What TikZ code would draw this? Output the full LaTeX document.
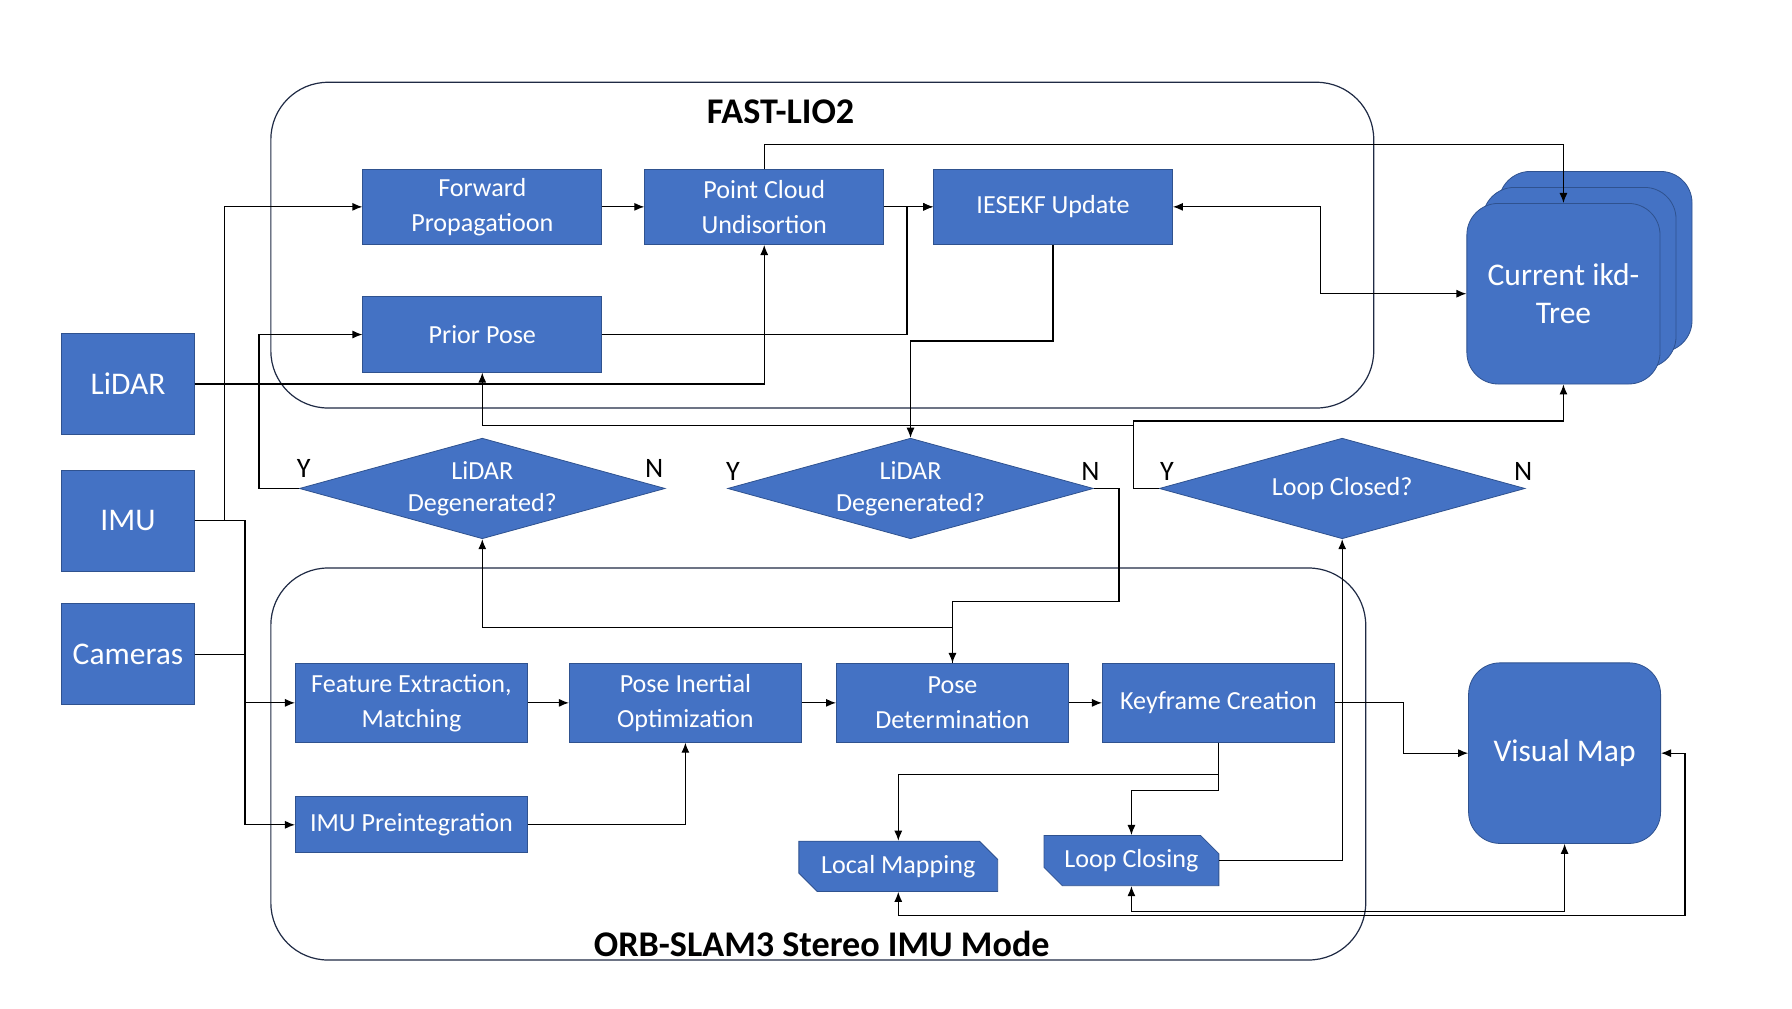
\documentclass[tikz,border=0pt]{standalone}
\usepackage{fontspec}
\setmainfont{Carlito}
\usepackage{tikz}
\usetikzlibrary{shapes.geometric,shapes.misc,arrows.meta,positioning,shadows,calc}
\definecolor{slamblue}{HTML}{4472C4}
\definecolor{slamedge}{HTML}{2F528F}
\definecolor{slamframe}{HTML}{1F2A44}

\begin{document}
\begin{tikzpicture}[
  box/.style={draw=slamedge, fill=slamblue, text=white, align=center, inner sep=0pt, font=\fontsize{13}{17.5}\selectfont},
  proc/.style={box, minimum width=4.18cm, minimum height=1.32cm},
  slamproc/.style={box, minimum width=4.06cm, minimum height=1.38cm},
  sensor/.style={box, minimum width=2.32cm, minimum height=1.76cm, font=\fontsize{15.7}{19}\selectfont},
  decision/.style={box, diamond, aspect=3.6, minimum width=6.4cm, minimum height=1.76cm, font=\fontsize{13}{16}\selectfont},
  mapbox/.style={box, rounded corners=0.55cm, minimum width=3.36cm, minimum height=3.16cm, font=\fontsize{15.7}{19}\selectfont},
  thread/.style={box, chamfered rectangle, chamfered rectangle corners={north east,south west}, chamfered rectangle xsep=0.16cm, chamfered rectangle ysep=0.16cm, minimum height=0.88cm},
  groupframe/.style={draw=slamframe, semithick, rounded corners=1cm},
  grouptitle/.style={font=\bfseries\fontsize{18}{22}\selectfont},
  yn/.style={font=\fontsize{14}{16}\selectfont, inner sep=0pt, anchor=base},
  >={Latex[length=5pt,width=4pt]}
]
\useasboundingbox (0,0) rectangle (31.36,-17.64);

% the two modules
\node[groupframe, minimum width=19.3cm, minimum height=5.7cm] (fastbox) at (14.39,-4.29) {};
\node[groupframe, minimum width=19.16cm, minimum height=6.86cm] (orbbox) at (14.32,-13.37) {};
\node[grouptitle] (fasttitle) at (13.66,-1.96) {FAST-LIO2};
\node[grouptitle] (orbtitle) at (14.38,-16.52) {ORB-SLAM3 Stereo IMU Mode};

% sensors
\node[sensor] (lidar) at (2.24,-6.72) {LiDAR};
\node[sensor, below=0.62cm of lidar] (imu) {IMU};
\node[sensor, below=0.56cm of imu] (cam) {Cameras};

% FAST-LIO2
\node[proc] (fwd) at (8.44,-3.62) {Forward\\Propagatioon};
\node[proc, right=0.74cm of fwd] (pcu) {Point Cloud\\Undisortion};
\node[proc, right=0.86cm of pcu] (ies) {IESEKF Update};
\node[proc, below=0.9cm of fwd] (prior) {Prior Pose};
\node[mapbox, minimum width=3.38cm, double copy shadow={shadow xshift=0.28cm, shadow yshift=0.28cm, fill=slamblue, draw=slamedge}] (ikd) at (27.36,-5.14) {Current ikd-\\Tree};

% decisions
\node[decision, below=1.14cm of prior] (d1) {LiDAR\\Degenerated?};
\node[decision, right=1.08cm of d1] (d2) {LiDAR\\Degenerated?};
\node[decision, right=1.14cm of d2] (d3) {Loop Closed?};
\node[yn] at ($(d1.west)+(0.08,0.2)$) {Y};
\node[yn] at ($(d1.east)+(-0.2,0.2)$) {N};
\node[yn] at ($(d2.west)+(0.1,0.14)$) {Y};
\node[yn] at ($(d2.east)+(-0.06,0.14)$) {N};
\node[yn] at ($(d3.west)+(0.14,0.14)$) {Y};
\node[yn] at ($(d3.east)+(-0.04,0.14)$) {N};

% ORB-SLAM3
\node[slamproc] (feat) at (7.2,-12.3) {Feature Extraction,\\Matching};
\node[slamproc, right=0.72cm of feat] (pio) {Pose Inertial\\Optimization};
\node[slamproc, right=0.6cm of pio] (pd) {Pose\\Determination};
\node[slamproc, right=0.58cm of pd] (kf) {Keyframe Creation};
\node[slamproc, minimum height=0.98cm, below=0.94cm of feat] (imupre) {IMU Preintegration};
\node[thread, minimum width=3.48cm] (lmap) at (15.72,-15.16) {Local Mapping};
\node[thread, minimum width=3.06cm] (lc) at (19.8,-15.06) {Loop Closing};
\node[mapbox] (vmap) at (27.38,-13.18) {Visual Map};

% inputs
\draw[->, semithick] (imu.east) -- ++(0.52,0) |- (fwd.west);
\draw[->, semithick] (imu.east) -- ++(0.88,0) |- (imupre.west);
\draw[->, semithick] (cam.east) -- ++(0.88,0) |- (feat.west);
\draw[->, semithick] (lidar.east) -| (pcu.south);

% FAST-LIO2 flow
\draw[->, semithick] (fwd) -- (pcu);
\draw[->, semithick] (pcu) -- (ies);
\draw[->, semithick] (prior.east) -| ([xshift=-0.46cm]ies.west) -- (ies.west);
\draw[->, semithick] (pcu.north) -- ++(0,0.42) -| (ikd.north);
\draw[<->, semithick] (ies.east) -- ++(2.58,0) |- (ikd.west);
\draw[->, semithick] (ies.south) -- ++(0,-1.68) -| (d2.north);
\draw[->, semithick] (d1.west) -- ++(-0.7,0) |- (prior.west);
\draw[->, semithick] (d3.west) -- ++(-0.44,0) -- ++(0,1.18) -| (ikd.south);
\draw[->, semithick] (d3.west) -- ++(-0.44,0) -- ++(0,1.1) -| (prior.south);
\draw[->, semithick] (d2.east) -- ++(0.44,0) -- ++(0,-1.98) -| (pd.north);
\draw[->, semithick] (pd.north) -- ++(0,0.62) -| (d1.south);

% ORB-SLAM3 flow
\draw[->, semithick] (feat) -- (pio);
\draw[->, semithick] (pio) -- (pd);
\draw[->, semithick] (pd) -- (kf);
\draw[->, semithick] (imupre.east) -| (pio.south);
\draw[->, semithick] (kf.east) -- ++(1.2,0) |- (vmap.west);
\draw[->, semithick] (kf.south) -- ++(0,-0.56) -| (lmap.north);
\draw[->, semithick] (kf.south) -- ++(0,-0.84) -| (lc.north);
\draw[->, semithick] (lc.east) -| (d3.south);
\draw[<->, semithick] (vmap.south) -- ++(0,-1.18) -| (lc.south);
\draw[<->, semithick] (lmap.south) -- ++(0,-0.42) -| ([xshift=0.42cm]vmap.east) -- (vmap.east);

\end{tikzpicture}
\end{document}
